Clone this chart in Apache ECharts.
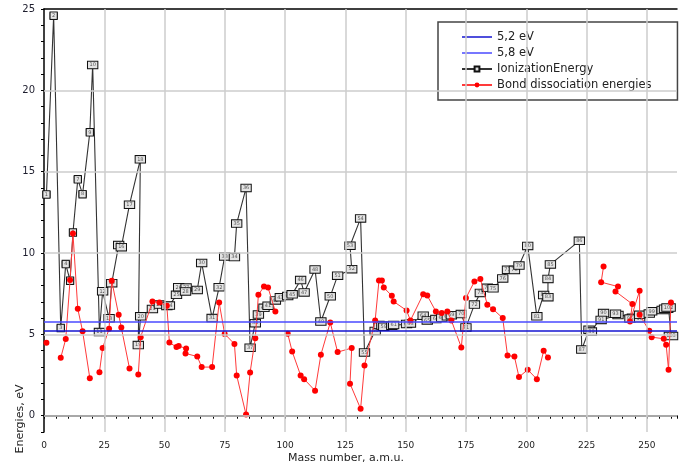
<!DOCTYPE html>
<html><head><meta charset="utf-8">
<script src="https://cdn.jsdelivr.net/npm/echarts@6/dist/echarts.min.js"></script>
<style>html,body{margin:0;padding:0;background:#fff}#c{width:680px;height:468px}</style>
</head><body><div id="c"></div>
<script>
// Atomic mass of each element, Z = 1..103 (atomic number = index + 1)
const masses = [1.008,4.0,6.94,9.01,10.81,12.01,14.01,16.0,19.0,20.18,
  22.99,24.31,26.98,28.09,30.97,32.06,35.45,39.95,39.10,40.08,
  44.96,47.87,50.94,52.0,54.94,55.85,58.93,58.69,63.55,65.38,
  69.72,72.63,74.92,78.97,79.9,83.8,85.47,87.62,88.91,91.22,
  92.91,95.95,98,101.07,102.91,106.42,107.87,112.41,114.82,118.71,
  121.76,127.6,126.9,131.29,132.91,137.33,138.91,140.12,140.91,144.24,
  145,150.36,151.96,157.25,158.93,162.5,164.93,167.26,168.93,173.05,
  174.97,178.49,180.95,183.84,186.21,190.23,192.22,195.08,196.97,200.59,
  204.38,207.2,208.98,209,210,222,223,226,227,232.04,
  231.04,238.03,237,244,243,247,247,251,252,257,
  258,259,260];
const ionization = [13.6,24.59,5.39,9.32,8.30,11.26,14.53,13.62,17.42,21.56,
  5.14,7.65,5.99,8.15,10.49,10.36,12.97,15.76,4.34,6.11,
  6.56,6.83,6.75,6.77,7.43,7.90,7.88,7.64,7.73,9.39,
  6.0,7.9,9.79,9.75,11.81,14.0,4.18,5.69,6.22,6.63,
  6.76,7.09,7.28,7.36,7.46,8.34,7.58,8.99,5.79,7.34,
  8.61,9.01,10.45,12.13,3.89,5.21,5.58,5.54,5.47,5.53,
  5.58,5.64,5.67,6.15,5.86,5.94,6.02,6.11,6.18,6.25,
  5.43,6.83,7.55,7.86,7.83,8.44,8.97,8.96,9.23,10.44,
  6.11,7.42,7.29,8.41,9.3,10.75,4.07,5.28,5.17,6.31,
  5.89,6.19,6.27,6.03,5.97,5.99,6.2,6.28,6.42,6.5,
  6.58,6.65,4.9];
const bondDissociation = [4.48,null,3.56,4.71,8.35,11.2,6.57,5.2,2.31,null,
  2.68,4.16,5.34,8.29,6.2,5.42,2.91,null,2.54,4.83,
  7.02,6.96,6.76,4.5,4.22,4.28,4.14,3.83,3.64,2.99,
  2.99,6.96,5.03,4.41,2.48,0.07,2.66,4.77,7.43,7.94,
  7.88,6.4,null,5.04,3.95,2.48,2.25,1.54,3.75,5.73,
  3.91,4.16,1.97,0.43,3.09,5.86,8.31,8.31,7.88,7.37,
  7.02,6.47,5.86,7.47,7.39,6.41,6.31,6.41,5.86,4.2,
  7.23,8.25,8.4,6.82,6.55,6.0,3.7,3.64,2.38,2.83,
  2.25,3.99,3.58,null,null,null,null,null,null,9.17,
  8.21,7.94,7.64,6.86,5.79,7.68,6.2,5.22,4.83,4.73,
  4.36,2.83,6.96];
const thresholds = [5.2, 5.8];
const thresholdNames = ['5,2 eV', '5,8 eV'];
const seriesNames = ['IonizationEnergy', 'Bond dissociation energies'];
const xGridValues = [25,50,75,100,125,150,175,200,225,250];
const yGridValues = [0,5,10,15,20];

const FONT = 'DejaVu Sans';
const LINE_ICON = 'path://M0,0L30,0L30,1.5L0,1.5Z';
const chart = echarts.init(document.getElementById('c'), null, {renderer:'canvas'});

const ieData = masses.map((m,i) => [m, ionization[i]]);
const bdData = masses.map((m,i) => [m, bondDissociation[i] === null ? '-' : bondDissociation[i]]);

chart.setOption({
  animation: false,
  backgroundColor: '#fff',
  grid: {left: 44, right: 0, top: 9, bottom: 36, containLabel: false},
  xAxis: [{
    type: 'value', min: 0, max: 262.5, interval: 5,
    axisLine: {show: true, lineStyle: {color: '#000', width: 1.5}},
    axisTick: {show: true, length: 3, lineStyle: {color: '#000', width: 1}},
    axisLabel: {formatter: v => (v % 25 === 0 ? String(v) : ''), fontSize: 9, color: '#222', margin: 9, fontFamily: FONT},
    splitLine: {show: false}
  }, {
    type: 'value', position: 'top', min: 0, max: 262.5,
    axisLine: {show: true, onZero: false, lineStyle: {color: '#000', width: 1.5}},
    axisTick: {show: false}, axisLabel: {show: false}, splitLine: {show: false}
  }],
  yAxis: {
    type: 'value', min: -1, max: 25, interval: 1,
    axisLine: {show: true, onZero: false, lineStyle: {color: '#000', width: 1.5}},
    axisTick: {show: true, length: 3, lineStyle: {color: '#000', width: 1}},
    axisLabel: {formatter: v => (v % 5 === 0 ? String(v) : ''), fontSize: 10, color: '#1e1e2e', margin: 9, fontFamily: FONT},
    splitLine: {show: false}
  },
  legend: {
    orient: 'vertical', left: 438, top: 22,
    padding: [9, 26, 9, 23],
    itemWidth: 30, itemHeight: 6, itemGap: 4,
    borderColor: '#444', borderWidth: 1.5, backgroundColor: '#fff',
    textStyle: {fontSize: 11.5, lineHeight: 12, color: '#222', fontFamily: FONT},
    data: [
      {name: thresholdNames[0], icon: LINE_ICON},
      {name: thresholdNames[1], icon: LINE_ICON},
      seriesNames[0], seriesNames[1]
    ]
  },
  graphic: [
    {type: 'text', x: 346, y: 458, style: {text: 'Mass number, a.m.u.', fontSize: 11, fontFamily: FONT, fill: '#222', textAlign: 'center', textVerticalAlign: 'middle'}},
    {type: 'text', x: 20, y: 419, rotation: Math.PI / 2, style: {text: 'Energies, eV', fontSize: 11, fontFamily: FONT, fill: '#222', textAlign: 'center', textVerticalAlign: 'middle'}}
  ],
  series: [
    {
      name: 'grid', type: 'line', data: [], silent: true, z: 1, symbol: 'none',
      markLine: {
        silent: true, symbol: 'none', label: {show: false},
        lineStyle: {color: '#cdcdcd', width: 1.5, type: 'solid'},
        emphasis: {disabled: true},
        data: xGridValues.map(v => ({xAxis: v})).concat(yGridValues.map(v => ({yAxis: v})))
      }
    },
    {
      name: thresholdNames[0], type: 'line', data: [], z: 2, symbol: 'none',
      color: '#1414d0', lineStyle: {color: '#1414d0', width: 1.5},
      markLine: {silent: true, symbol: 'none', label: {show: false}, emphasis: {disabled: true},
        lineStyle: {color: '#1414d0', width: 1.5, type: 'solid'}, data: [{yAxis: thresholds[0]}]}
    },
    {
      name: thresholdNames[1], type: 'line', data: [], z: 2, symbol: 'none',
      color: '#4a4aff', lineStyle: {color: '#4a4aff', width: 1.5},
      markLine: {silent: true, symbol: 'none', label: {show: false}, emphasis: {disabled: true},
        lineStyle: {color: '#4a4aff', width: 1.5, type: 'solid'}, data: [{yAxis: thresholds[1]}]}
    },
    {
      name: seriesNames[0], type: 'line', data: ieData, z: 3,
      color: '#222',
      symbol: 'rect', symbolSize: [7, 6], showSymbol: true,
      itemStyle: {color: '#dcdcdc', borderColor: '#111', borderWidth: 1},
      lineStyle: {color: '#333', width: 1.1},
      label: {
        show: true, position: 'inside',
        formatter: p => String(p.dataIndex + 1),
        fontSize: 5, fontFamily: FONT, color: '#555',
        backgroundColor: '#e4e4e4', borderColor: '#111', borderWidth: 1,
        padding: [1, 1.5, 0.5, 1.5]
      },
      emphasis: {disabled: true}
    },
    {
      name: seriesNames[1], type: 'line', data: bdData, z: 4,
      color: '#ff0000', connectNulls: false,
      symbol: 'circle', symbolSize: 6, showSymbol: true,
      itemStyle: {color: '#ff0000'},
      lineStyle: {color: '#ff3a3a', width: 1},
      emphasis: {disabled: true}
    }
  ]
});
</script></body></html>
